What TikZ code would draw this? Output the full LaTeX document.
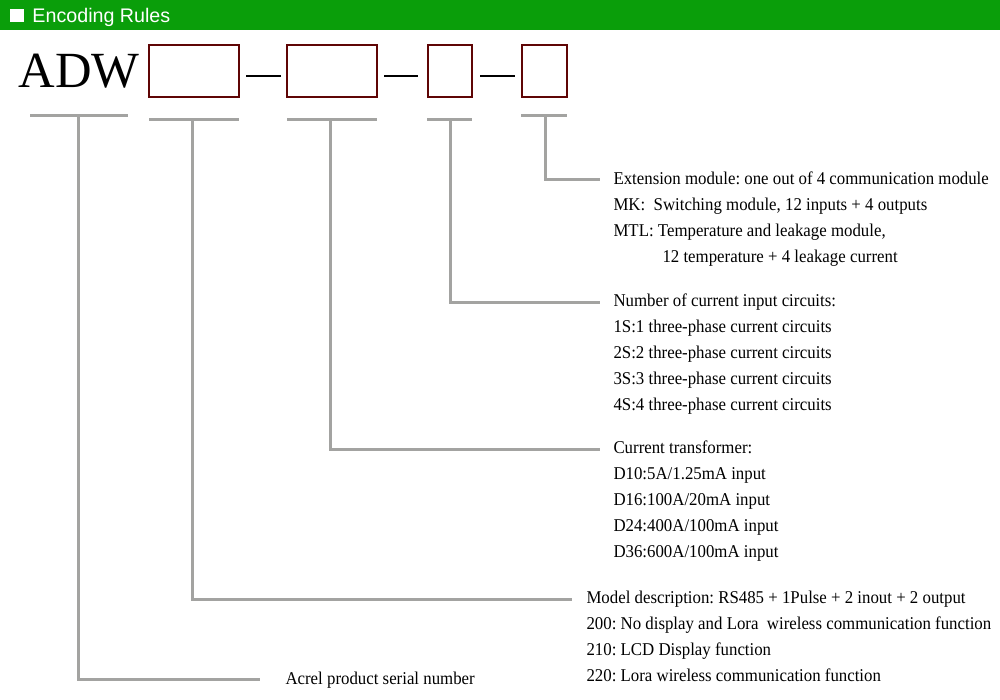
\documentclass[tikz,border=0pt]{standalone}
\usepackage{fontspec}
\setmainfont[FakeStretch=0.935]{Liberation Serif}
\newfontfamily\adwfont{Liberation Serif}
\newfontfamily\headfont{Liberation Sans}
\definecolor{headgreen}{RGB}{10,158,10}
\definecolor{boxred}{RGB}{95,5,5}
\definecolor{leadgray}{RGB}{163,163,161}
\frenchspacing

\tikzset{every picture/.style={line width=0.75pt}}
\tikzset{
  codebox/.style={draw=boxred, line width=1.5pt},
  joiner/.style={draw=black, line width=1.5pt},
  underbar/.style={draw=leadgray, line width=2.25pt},
  leader/.style={draw=leadgray, line width=2.25pt, shorten >=9.75pt},
  ruletext/.style={anchor=base west, inner sep=0pt, text height=10pt, text depth=3.5pt,
    font=\fontsize{13.5pt}{16pt}\selectfont},
}

\begin{document}
\begin{tikzpicture}[x=0.75pt,y=0.75pt,yscale=-1,xscale=1]
	\useasboundingbox (0,0) rectangle (1000,700);
	
	%Header bar
	\fill [headgreen] (0,0) rectangle (1000,30);
	\fill [white] (10,9) rectangle (24,22);
	% Text Node
	\node [anchor=base west, inner sep=0pt, text=white, font=\headfont\fontsize{14.75pt}{16pt}\selectfont] (title) at (32,22) {Encoding Rules};
	
	% Text Node
	\node [anchor=base west, inner sep=0pt, font=\adwfont\fontsize{38pt}{40pt}\selectfont] (adw) at (18,87) {ADW};
	%Shape: Code boxes
	\draw [codebox] (149,45) rectangle (239,97);
	\draw [codebox] (287,45) rectangle (377,97);
	\draw [codebox] (428,45) rectangle (472,97);
	\draw [codebox] (522,45) rectangle (567,97);
	%Straight Lines: joiners
	\draw [joiner] (246,76) -- (281,76);
	\draw [joiner] (384,76) -- (418,76);
	\draw [joiner] (480,76) -- (515,76);
	
	%Straight Lines: bars under each field
	\draw [underbar] (30,115) -- (128,115);
	\draw [underbar] (149,119) -- (239,119);
	\draw [underbar] (287,119) -- (377,119);
	\draw [underbar] (427,119) -- (472,119);
	\draw [underbar] (521,115) -- (567,115);
	\coordinate (stemAdw) at (78,115);
	\coordinate (stemModel) at (192,119);
	\coordinate (stemCt) at (330,119);
	\coordinate (stemCirc) at (450,119);
	\coordinate (stemExt) at (545,115);
	
	% Text Node
	\node [ruletext] (extHead) at (613,184) {Extension module: one out of 4 communication module};
	\node [ruletext] (extMk) at (613,210) {MK:\ \ Switching module, 12 inputs + 4 outputs};
	\node [ruletext] (extMtl) at (613,236) {MTL: Temperature and leakage module,};
	\node [ruletext] (extMtlB) at (662,262) {12 temperature + 4 leakage current};
	% Text Node
	\node [ruletext] (circHead) at (613,306.5) {Number of current input circuits:};
	\node [ruletext] (circA) at (613,332.5) {1S:1 three-phase current circuits};
	\node [ruletext] (circB) at (613,358.5) {2S:2 three-phase current circuits};
	\node [ruletext] (circC) at (613,384.5) {3S:3 three-phase current circuits};
	\node [ruletext] (circD) at (613,410.5) {4S:4 three-phase current circuits};
	% Text Node
	\node [ruletext] (ctHead) at (613,453.5) {Current transformer:};
	\node [ruletext] (ctA) at (613,479.5) {D10:5A/1.25mA input};
	\node [ruletext] (ctB) at (613,505.5) {D16:100A/20mA input};
	\node [ruletext] (ctC) at (613,531.5) {D24:400A/100mA input};
	\node [ruletext] (ctD) at (613,557.5) {D36:600A/100mA input};
	% Text Node
	\node [ruletext] (modelHead) at (586,603.5) {Model description: RS485 + 1Pulse + 2 inout + 2 output};
	\node [ruletext] (modelA) at (586,629.5) {200: No display and Lora\ \ wireless communication function};
	\node [ruletext] (modelB) at (586,655.5) {210: LCD Display function};
	\node [ruletext] (modelC) at (586,681.5) {220: Lora wireless communication function};
	% Text Node
	\node [ruletext] (serial) at (285,684) {Acrel product serial number};
	
	%Straight Lines: leaders
	\draw [leader] (stemExt) |- (extHead.west);
	\draw [leader] (stemCirc) |- (circHead.west);
	\draw [leader] (stemCt) |- (ctHead.west);
	\draw [leader, shorten >=10.5pt] (stemModel) |- (modelHead.west);
	\draw [leader, shorten >=18.75pt] (stemAdw) |- (serial.west);
	
\end{tikzpicture}
\end{document}
